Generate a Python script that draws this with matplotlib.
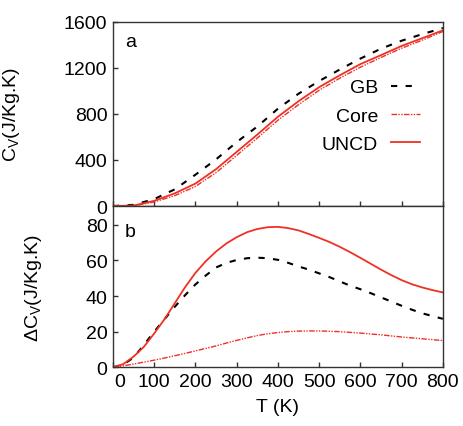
import numpy as np
import matplotlib
matplotlib.use("Agg")
from matplotlib import pyplot as plt
from matplotlib import transforms

# panel a: temperature grid (K) and Cv (J/Kg.K)
T_a = [0, 50, 100, 150, 200, 250, 300, 350, 400, 450, 500, 550, 600, 650, 700, 750, 800]
cv_gb = [0, 10, 60, 145, 272, 405, 555, 690, 845, 975, 1085, 1185, 1280, 1366, 1435, 1492, 1545]
cv_core = [0, 2, 35, 90, 170, 290, 440, 590, 745, 880, 1005, 1110, 1205, 1290, 1370, 1440, 1515]
cv_uncd = [0, 4, 45, 110, 195, 320, 470, 620, 775, 910, 1032, 1135, 1232, 1310, 1390, 1457, 1525]

# panel b: temperature grid (K) and delta Cv (J/Kg.K)
T_b = [0, 25, 50, 75, 100, 125, 150, 175, 200, 225, 250, 275, 300, 325, 350, 375, 400,
       425, 450, 475, 500, 525, 550, 575, 600, 625, 650, 675, 700, 725, 750, 775, 800]
dcv_gb = [0, 1.5, 5.5, 12.5, 20, 27, 34, 40.5, 46.5, 51.5, 56, 58.6, 60.2, 61.2, 61.5, 61.2, 60.3,
          58.6, 56.6, 54.8, 52.7, 50.6, 48.2, 45.8, 43.8, 41.6, 39.2, 36.9, 34.5, 32.3, 30.3, 28.7, 27.2]
dcv_core = [0, 0.8, 1.8, 2.9, 4, 5.2, 6.5, 7.8, 9.2, 10.6, 12, 13.6, 15.1, 16.5, 17.8, 18.8, 19.5,
            20, 20.3, 20.4, 20.4, 20.2, 20, 19.6, 19.2, 18.7, 18.2, 17.6, 17, 16.5, 16, 15.5, 15]
dcv_uncd = [0, 1.8, 6, 11.5, 19, 27, 36, 45, 53, 59.5, 65, 69.5, 73, 75.8, 77.6, 78.6, 78.8,
            78.1, 76.8, 74.8, 72.6, 70.3, 67.6, 64.6, 61.4, 58.1, 54.8, 51.7, 48.9, 46.6, 44.8, 43.3, 42]

red = "#ee3124"
plt.rcParams["font.family"] = ["Liberation Sans", "DejaVu Sans"]
plt.rcParams["font.size"] = 14
plt.rcParams["mathtext.default"] = "regular"

fig = plt.figure(figsize=(4.64, 4.27), dpi=100)
ax_a = fig.add_axes([0.2435, 0.5152, 0.711, 0.4316])
ax_b = fig.add_axes([0.2435, 0.1375, 0.711, 0.3777])

def style(ax):
    for side in ["left", "bottom", "right", "top"]:
        ax.spines[side].set_color("#333333")
        ax.spines[side].set_linewidth(1.0)
    ax.tick_params(direction="in", length=3.5, width=1, color="#333333",
                   top=False, right=False, labelsize=14, pad=4)
    ax.set_xlim(0, 800)
    ax.set_xticks(range(0, 801, 100))

def draw(ax, T, gb, core, uncd):
    ax.plot(T, gb, color="black", lw=1.5, dashes=(3, 4), label="GB")
    ax.plot(T, core, color=red, lw=1.0, dashes=(4, 1, 1, 1, 1, 1), label="Core")
    ax.plot(T, uncd, color=red, lw=1.3, label="UNCD")

style(ax_a)
draw(ax_a, T_a, cv_gb, cv_core, cv_uncd)
ax_a.set_ylim(0, 1600)
ax_a.set_yticks(range(0, 1601, 400))
ax_a.tick_params(labelbottom=False)
ax_a.set_ylabel("C$_V$(J/Kg.K)")
ax_a.yaxis.set_label_coords(-0.276, 0.5)
ax_a.text(0.052, 0.89, "a", transform=ax_a.transAxes, ha="center", va="center")
ax_a.legend(loc="upper right", bbox_to_anchor=(0.93, 0.69), frameon=False,
            markerfirst=False, handlelength=1.5, handletextpad=0.65,
            labelspacing=0.55, borderpad=0, borderaxespad=0)

style(ax_b)
draw(ax_b, T_b, dcv_gb, dcv_core, dcv_uncd)
ax_b.set_ylim(0, 90.5)
ax_b.set_yticks(range(0, 81, 20))
ax_b.set_ylabel("ΔC$_V$(J/Kg.K)")
ax_b.yaxis.set_label_coords(-0.209, 0.5)
ax_b.set_xlabel("T (K)", labelpad=6)
ax_b.text(0.052, 0.84, "b", transform=ax_b.transAxes, ha="center", va="center")
fig.canvas.draw()
lab0 = ax_b.get_xticklabels()[0]
lab0.set_transform(lab0.get_transform() + transforms.ScaledTranslation(7 / 100, 0, fig.dpi_scale_trans))

fig.savefig("out.png", dpi=100)
